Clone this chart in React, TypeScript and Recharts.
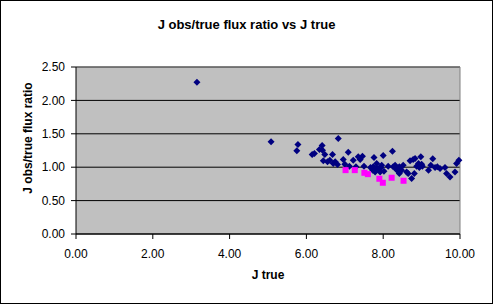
import {
    ScatterChart,
    Scatter,
    XAxis,
    YAxis,
    CartesianGrid,
    ReferenceLine,
} from "recharts";

// J true vs J obs/true flux ratio, main sample (navy diamonds)
const jTrue = [
    3.15, 5.08, 5.78, 5.75, 6.15, 6.21, 6.34, 6.41, 6.42, 6.48, 6.44, 6.55,
    6.61, 6.68, 6.7, 6.75, 6.83, 6.81, 6.96, 7.0, 7.09, 7.12, 7.22, 7.29,
    7.35, 7.4, 7.46, 7.5, 7.67, 7.73, 7.76, 7.79, 7.83, 7.87, 7.92, 7.96,
    8.0, 8.02, 8.13, 8.24, 8.31, 8.36, 8.42, 8.48, 8.52, 8.61, 8.65, 8.7,
    8.74, 8.78, 8.83, 8.81, 8.87, 8.92, 8.98, 9.02, 9.18, 9.24, 9.29, 9.35,
    9.48, 9.61, 9.65, 9.74, 9.87, 9.91, 9.97, 7.74, 7.81, 7.94, 8.26, 8.33,
    8.42, 8.94, 9.0, 9.41,
];
const fluxRatio = [
    2.27, 1.38, 1.34, 1.245, 1.19, 1.205, 1.265, 1.325, 1.255, 1.19, 1.095,
    1.08, 1.105, 1.19, 1.055, 1.08, 1.43, 1.04, 1.115, 1.045, 1.225, 1.015,
    1.105, 1.005, 1.155, 1.115, 1.165, 1.015, 0.995, 0.955, 1.145, 0.93,
    1.055, 0.98, 0.93, 1.03, 1.175, 0.94, 1.015, 1.24, 1.03, 0.955, 0.905,
    0.955, 1.03, 0.93, 0.905, 1.095, 0.83, 1.115, 1.13, 0.905, 1.015, 1.055,
    1.155, 1.015, 0.955, 1.03, 1.125, 0.995, 0.98, 0.995, 0.905, 0.855, 0.93,
    1.055, 1.105, 1.005, 0.98, 0.995, 1.005, 0.98, 1.005, 0.995, 1.045, 1.005,
];

// second group (magenta squares)
const jTrue2 = [7.02, 7.26, 7.51, 7.6, 7.9, 7.99, 8.22, 8.53];
const fluxRatio2 = [0.956, 0.956, 0.916, 0.896, 0.827, 0.767, 0.842, 0.797];

const xTicks = [0, 2, 4, 6, 8, 10];
const yTicks = [0, 0.5, 1, 1.5, 2, 2.5];

const mainData = jTrue.map((x, i) => ({ x, y: fluxRatio[i] }));
const otherData = jTrue2.map((x, i) => ({ x, y: fluxRatio2[i] }));

const FONT = "'Liberation Sans', Arial, sans-serif";

const Diamond = (props: any) => {
    const { cx, cy } = props;
    const r = 3.5;
    return (
        <polygon
            points={`${cx},${cy - r} ${cx + r},${cy} ${cx},${cy + r} ${cx - r},${cy}`}
            fill="#000080"
        />
    );
};

const Square = (props: any) => {
    const { cx, cy } = props;
    return <rect x={cx - 3} y={cy - 3} width={6} height={6} fill="#FF00FF" />;
};

export default function App() {
    return (
        <div
            style={{
                position: "absolute",
                left: 0,
                top: 0,
                width: 493,
                height: 304,
                background: "#fff",
                fontFamily: FONT,
            }}
        >
            <ScatterChart
                width={493}
                height={304}
                margin={{ top: 67, right: 33, bottom: 0, left: 0 }}
            >
                <CartesianGrid
                    vertical={false}
                    stroke="#000"
                    fill="#C0C0C0"
                    fillOpacity={1}
                />
                <XAxis
                    type="number"
                    dataKey="x"
                    domain={[0, 10]}
                    ticks={xTicks}
                    height={70}
                    tickSize={5}
                    tickMargin={10}
                    tickFormatter={(v) => v.toFixed(2)}
                    axisLine={{ stroke: "#000" }}
                    tickLine={{ stroke: "#000" }}
                    tick={{ fontSize: 12, fill: "#000", fontFamily: FONT }}
                />
                <YAxis
                    type="number"
                    dataKey="y"
                    domain={[0, 2.5]}
                    ticks={yTicks}
                    width={76}
                    tickSize={5}
                    tickMargin={6}
                    tickFormatter={(v) => v.toFixed(2)}
                    axisLine={{ stroke: "#000" }}
                    tickLine={{ stroke: "#000" }}
                    tick={{ fontSize: 12, fill: "#000", fontFamily: FONT }}
                />
                {/* plot area border, top and right */}
                <ReferenceLine y={2.5} stroke="#808080" />
                <ReferenceLine x={10} stroke="#808080" />
                <Scatter
                    data={mainData}
                    shape={<Diamond />}
                    isAnimationActive={false}
                />
                <Scatter
                    data={otherData}
                    shape={<Square />}
                    isAnimationActive={false}
                />
            </ScatterChart>

            {/* title */}
            <div
                style={{
                    position: "absolute",
                    left: 0,
                    width: 493,
                    top: 17,
                    textAlign: "center",
                    fontSize: 13,
                    fontWeight: 700,
                }}
            >
                J obs/true flux ratio vs J true
            </div>

            {/* y axis label */}
            <div
                style={{
                    position: "absolute",
                    left: 28 - 80,
                    top: 138 - 8,
                    width: 160,
                    height: 16,
                    lineHeight: "16px",
                    textAlign: "center",
                    fontSize: 12,
                    fontWeight: 700,
                    transform: "rotate(-90deg)",
                }}
            >
                J obs/true flux ratio
            </div>

            {/* x axis label */}
            <div
                style={{
                    position: "absolute",
                    left: 188,
                    width: 160,
                    top: 268,
                    textAlign: "center",
                    fontSize: 12,
                    fontWeight: 700,
                }}
            >
                J true
            </div>

            <div
                style={{
                    position: "absolute",
                    left: 0,
                    top: 0,
                    width: 493,
                    height: 304,
                    boxSizing: "border-box",
                    border: "1px solid #000",
                    pointerEvents: "none",
                }}
            />
        </div>
    );
}
